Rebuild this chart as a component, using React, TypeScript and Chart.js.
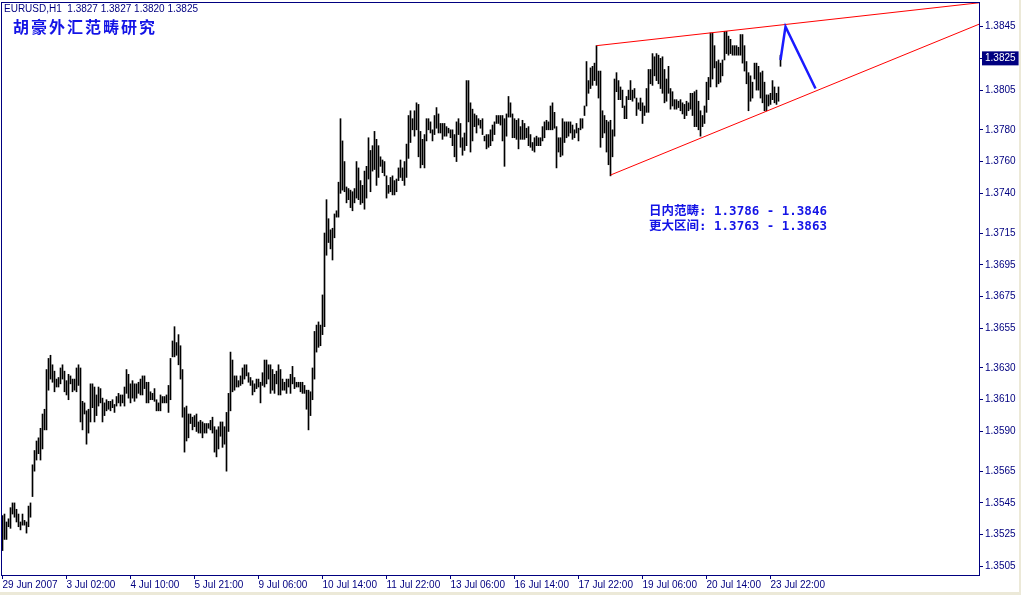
import React, { useEffect, useRef } from 'react';
import { Chart, registerables } from 'chart.js';

Chart.register(...registerables);

const NAVY = '#000080';
const BLUE = '#1414e6';

const HEADER = 'EURUSD,H1  1.3827 1.3827 1.3820 1.3825';
const TITLE = '胡豪外汇范畴研究';
const NOTES = ['日内范畴: 1.3786 - 1.3846', '更大区间: 1.3763 - 1.3863'];

const HIGH = [
  1.3537,1.3538,1.3533,1.3535,1.3542,1.3545,1.3545,1.3541,1.3538,1.3533,
  1.3538,1.3534,1.3533,1.3543,1.3545,1.3569,1.3578,1.3584,1.3586,1.3592,
  1.3601,1.3604,1.3629,1.3636,1.3638,1.3632,1.3628,1.3623,1.3624,1.3630,
  1.3632,1.3628,1.3622,1.3626,1.3625,1.3623,1.3623,1.3630,1.3632,1.3630,
  1.3609,1.3608,1.3603,1.3604,1.3620,1.3620,1.3618,1.3613,1.3618,1.3617,
  1.3611,1.3608,1.3610,1.3609,1.3609,1.3610,1.3607,1.3612,1.3614,1.3613,
  1.3613,1.3618,1.3629,1.3626,1.3620,1.3622,1.3620,1.3620,1.3621,1.3623,
  1.3625,1.3625,1.3621,1.3621,1.3615,1.3614,1.3617,1.3610,1.3608,1.3613,
  1.3612,1.3612,1.3613,1.3619,1.3636,1.3647,1.3656,1.3646,1.3651,1.3644,
  1.3629,1.3605,1.3606,1.3601,1.3601,1.3599,1.3600,1.3601,1.3596,1.3597,
  1.3596,1.3595,1.3595,1.3595,1.3597,1.3599,1.3593,1.3591,1.3593,1.3596,
  1.3596,1.3593,1.3602,1.3614,1.3640,1.3635,1.3625,1.3625,1.3622,1.3625,
  1.3630,1.3632,1.3632,1.3627,1.3624,1.3622,1.3620,1.3623,1.3623,1.3621,
  1.3627,1.3635,1.3635,1.3632,1.3632,1.3629,1.3626,1.3628,1.3632,1.3629,
  1.3623,1.3621,1.3623,1.3623,1.3626,1.3631,1.3624,1.3621,1.3621,1.3621,
  1.3621,1.3619,1.3616,1.3616,1.3615,1.3630,1.3653,1.3657,1.3659,1.3657,
  1.3676,1.3715,1.3736,1.3724,1.3717,1.3718,1.3727,1.3729,1.3747,1.3787,
  1.3773,1.3760,1.3744,1.3743,1.3742,1.3741,1.3743,1.3760,1.3756,1.3748,
  1.3745,1.3754,1.3757,1.3775,1.3767,1.3770,1.3779,1.3774,1.3770,1.3763,
  1.3761,1.3760,1.3751,1.3745,1.3750,1.3751,1.3748,1.3749,1.3756,1.3761,
  1.3756,1.3760,1.3771,1.3789,1.3792,1.3787,1.3792,1.3797,1.3796,1.3779,
  1.3774,1.3777,1.3787,1.3787,1.3785,1.3780,1.3789,1.3794,1.3790,1.3784,
  1.3784,1.3784,1.3782,1.3781,1.3780,1.3780,1.3777,1.3785,1.3787,1.3784,
  1.3775,1.3778,1.3811,1.3811,1.3797,1.3793,1.3790,1.3789,1.3787,1.3786,
  1.3787,1.3776,1.3777,1.3777,1.3780,1.3783,1.3785,1.3789,1.3789,1.3789,
  1.3789,1.3787,1.3790,1.3801,1.3797,1.3790,1.3787,1.3786,1.3787,1.3782,
  1.3786,1.3784,1.3781,1.3782,1.3777,1.3772,1.3775,1.3776,1.3775,1.3775,
  1.3782,1.3785,1.3786,1.3785,1.3795,1.3797,1.3791,1.3782,1.3775,1.3775,
  1.3787,1.3785,1.3785,1.3785,1.3785,1.3783,1.3780,1.3784,1.3781,1.3787,
  1.3787,1.3795,1.3823,1.3811,1.3819,1.3820,1.3822,1.3833,1.3817,1.3817,
  1.3792,1.3789,1.3786,1.3785,1.3786,1.3780,1.3812,1.3816,1.3811,1.3807,
  1.3805,1.3795,1.3801,1.3805,1.3811,1.3805,1.3806,1.3800,1.3797,1.3800,
  1.3797,1.3795,1.3806,1.3818,1.3818,1.3828,1.3826,1.3828,1.3827,1.3825,
  1.3826,1.3818,1.3812,1.3820,1.3806,1.3804,1.3799,1.3799,1.3798,1.3799,
  1.3797,1.3796,1.3798,1.3797,1.3803,1.3803,1.3804,1.3805,1.3798,1.3792,
  1.3789,1.3795,1.3810,1.3813,1.3841,1.3841,1.3833,1.3823,1.3824,1.3822,
  1.3824,1.3842,1.3842,1.3839,1.3837,1.3833,1.3833,1.3833,1.3832,1.3840,
  1.3840,1.3833,1.3823,1.3816,1.3814,1.3810,1.3822,1.3822,1.3820,1.3816,
  1.3817,1.3810,1.3802,1.3802,1.3803,1.3811,1.3807,1.3803,1.3807,1.3827,
];

const LOW = [
  1.3515,1.3522,1.3522,1.3530,1.3529,1.3538,1.3536,1.3533,1.3530,1.3528,
  1.3531,1.3531,1.3526,1.3530,1.3536,1.3549,1.3565,1.3572,1.3576,1.3572,
  1.3579,1.3591,1.3591,1.3616,1.3623,1.3621,1.3615,1.3618,1.3618,1.3620,
  1.3623,1.3615,1.3613,1.3610,1.3620,1.3615,1.3616,1.3615,1.3619,1.3596,
  1.3591,1.3601,1.3582,1.3589,1.3596,1.3605,1.3596,1.3600,1.3606,1.3608,
  1.3596,1.3600,1.3603,1.3604,1.3603,1.3605,1.3602,1.3606,1.3608,1.3606,
  1.3608,1.3606,1.3614,1.3611,1.3608,1.3611,1.3609,1.3611,1.3614,1.3613,
  1.3613,1.3617,1.3608,1.3608,1.3610,1.3610,1.3609,1.3603,1.3603,1.3603,
  1.3608,1.3608,1.3608,1.3602,1.3610,1.3637,1.3637,1.3638,1.3632,1.3623,
  1.3599,1.3577,1.3584,1.3586,1.3595,1.3591,1.3593,1.3590,1.3589,1.3589,
  1.3586,1.3589,1.3589,1.3592,1.3591,1.3589,1.3577,1.3574,1.3579,1.3587,
  1.3580,1.3582,1.3565,1.3590,1.3603,1.3615,1.3616,1.3618,1.3618,1.3619,
  1.3620,1.3623,1.3625,1.3621,1.3619,1.3613,1.3615,1.3617,1.3618,1.3608,
  1.3619,1.3618,1.3620,1.3623,1.3614,1.3616,1.3614,1.3620,1.3613,1.3613,
  1.3616,1.3616,1.3614,1.3618,1.3614,1.3620,1.3617,1.3618,1.3618,1.3615,
  1.3614,1.3614,1.3604,1.3591,1.3600,1.3610,1.3623,1.3640,1.3643,1.3644,
  1.3651,1.3656,1.3701,1.3709,1.3705,1.3698,1.3712,1.3725,1.3725,1.3740,
  1.3742,1.3741,1.3734,1.3736,1.3731,1.3729,1.3734,1.3737,1.3736,1.3733,
  1.3734,1.3730,1.3737,1.3749,1.3741,1.3754,1.3755,1.3745,1.3750,1.3757,
  1.3753,1.3751,1.3737,1.3740,1.3741,1.3739,1.3739,1.3741,1.3748,1.3750,
  1.3748,1.3745,1.3750,1.3762,1.3772,1.3780,1.3776,1.3780,1.3763,1.3756,
  1.3758,1.3756,1.3773,1.3780,1.3778,1.3773,1.3777,1.3781,1.3778,1.3778,
  1.3774,1.3776,1.3776,1.3778,1.3775,1.3770,1.3763,1.3760,1.3777,1.3769,
  1.3764,1.3767,1.3770,1.3785,1.3766,1.3773,1.3782,1.3778,1.3783,1.3781,
  1.3777,1.3773,1.3768,1.3769,1.3770,1.3773,1.3777,1.3784,1.3784,1.3783,
  1.3773,1.3757,1.3776,1.3788,1.3788,1.3775,1.3775,1.3774,1.3768,1.3774,
  1.3774,1.3774,1.3775,1.3770,1.3769,1.3767,1.3766,1.3770,1.3770,1.3770,
  1.3773,1.3775,1.3780,1.3780,1.3780,1.3780,1.3781,1.3756,1.3766,1.3763,
  1.3764,1.3772,1.3775,1.3776,1.3778,1.3774,1.3775,1.3778,1.3773,1.3780,
  1.3781,1.3789,1.3795,1.3803,1.3806,1.3808,1.3811,1.3808,1.3800,1.3769,
  1.3775,1.3778,1.3766,1.3758,1.3751,1.3763,1.3776,1.3804,1.3799,1.3799,
  1.3794,1.3787,1.3787,1.3799,1.3799,1.3798,1.3800,1.3789,1.3793,1.3792,
  1.3784,1.3789,1.3791,1.3791,1.3809,1.3808,1.3814,1.3811,1.3809,1.3806,
  1.3803,1.3797,1.3798,1.3803,1.3793,1.3795,1.3793,1.3793,1.3794,1.3792,
  1.3790,1.3787,1.3789,1.3792,1.3793,1.3789,1.3782,1.3782,1.3780,1.3776,
  1.3782,1.3784,1.3791,1.3799,1.3807,1.3812,1.3819,1.3807,1.3809,1.3810,
  1.3814,1.3824,1.3828,1.3827,1.3828,1.3827,1.3827,1.3827,1.3827,1.3827,
  1.3822,1.3817,1.3809,1.3792,1.3798,1.3800,1.3812,1.3805,1.3805,1.3800,
  1.3797,1.3792,1.3792,1.3795,1.3796,1.3799,1.3797,1.3796,1.3798,1.3820,
];

const X_TICK_INDEX = [0, 32, 64, 96, 128, 160, 192, 224, 256, 288, 320, 352, 384];
const X_TICK_LABELS = [
  '29 Jun 2007', '3 Jul 02:00', '4 Jul 10:00', '5 Jul 21:00', '9 Jul 06:00',
  '10 Jul 14:00', '11 Jul 22:00', '13 Jul 06:00', '16 Jul 14:00', '17 Jul 22:00',
  '19 Jul 06:00', '20 Jul 14:00', '23 Jul 22:00',
];
const Y_TICKS = [
  1.3505, 1.3525, 1.3545, 1.3565, 1.359, 1.361, 1.363, 1.3655, 1.3675,
  1.3695, 1.3715, 1.374, 1.376, 1.378, 1.3805, 1.3825, 1.3845,
];
const CURRENT_PRICE = 1.3825;

const UPPER_X = [297, 488.25];
const UPPER_Y = [1.3833, 1.386];
const LOWER_X = [304, 488.25];
const LOWER_Y = [1.37515, 1.38465];
const FORECAST_X = [389, 391.5, 406.5];
const FORECAST_Y = [1.3824, 1.3845, 1.3806];

const X_MIN = -0.75;
const X_MAX = 488.25;
const Y_MIN = 1.34996;
const Y_MAX = 1.38605;

const AXIS_FONT = "'Liberation Sans', Arial, sans-serif";

const overlay = {
  id: 'overlay',
  beforeDraw(chart: any) {
    const { ctx, width, height } = chart;
    ctx.save();
    ctx.fillStyle = '#ffffff';
    ctx.fillRect(0, 0, width, height);
    ctx.fillStyle = '#ECE9D8';
    ctx.fillRect(width - 2, 0, 2, height);
    ctx.fillRect(0, height - 3, width, 3);
    ctx.restore();
  },
  afterDraw(chart: any) {
    const { ctx, chartArea: a } = chart;
    ctx.save();
    ctx.strokeStyle = NAVY;
    ctx.lineWidth = 1;
    ctx.strokeRect(Math.round(a.left) + 0.5, Math.round(a.top) + 0.5,
      Math.round(a.right) - Math.round(a.left), Math.round(a.bottom) - Math.round(a.top));

    ctx.fillStyle = NAVY;
    ctx.textBaseline = 'top';
    ctx.textAlign = 'left';
    ctx.font = `10px ${AXIS_FONT}`;
    ctx.fillText(HEADER, 4, 4);

    ctx.fillStyle = BLUE;
    ctx.textBaseline = 'middle';
    ctx.font = "bold 16px 'Noto Sans CJK SC', sans-serif";
    (ctx as any).letterSpacing = '2px';
    ctx.fillText(TITLE, 13, 27);
    (ctx as any).letterSpacing = '0px';

    ctx.font = "bold 12.5px 'DejaVu Sans Mono', 'Noto Sans CJK SC', monospace";
    ctx.fillText(NOTES[0], 649, 212);
    ctx.fillText(NOTES[1], 649, 227);
    ctx.restore();
  },
};

export default function App() {
  const ref = useRef<HTMLCanvasElement>(null);

  useEffect(() => {
    document.body.style.margin = '0';
    const canvas = ref.current;
    if (!canvas) return;

    const bars = HIGH.map((h, i) => ({ x: i, y: [LOW[i], h] }));
    const pts = (xs: number[], ys: number[]) => xs.map((x, i) => ({ x, y: ys[i] }));

    const chart = new Chart(canvas, {
      type: 'bar',
      data: {
        datasets: [
          {
            type: 'bar',
            data: bars as any,
            backgroundColor: '#000000',
            borderWidth: 0,
            barThickness: 1,
            grouped: false,
            order: 3,
          } as any,
          {
            type: 'line',
            data: pts(UPPER_X, UPPER_Y) as any,
            borderColor: '#ff0000',
            borderWidth: 1,
            pointRadius: 0,
            tension: 0,
            fill: false,
            order: 1,
          } as any,
          {
            type: 'line',
            data: pts(LOWER_X, LOWER_Y) as any,
            borderColor: '#ff0000',
            borderWidth: 1,
            pointRadius: 0,
            tension: 0,
            fill: false,
            order: 1,
          } as any,
          {
            type: 'line',
            data: pts(FORECAST_X, FORECAST_Y) as any,
            borderColor: '#1a1aff',
            borderWidth: 2.5,
            pointRadius: 0,
            tension: 0,
            fill: false,
            order: 0,
          } as any,
        ],
      },
      options: {
        animation: false,
        responsive: false,
        devicePixelRatio: 1,
        layout: { padding: { left: 1, top: 2, right: 0, bottom: 0 } },
        plugins: { legend: { display: false }, tooltip: { enabled: false } },
        scales: {
          x: {
            type: 'linear',
            position: 'bottom',
            min: X_MIN,
            max: X_MAX,
            offset: false,
            afterFit: (s: any) => {
              s.height = 20;
              s.paddingLeft = 0;
              s.paddingRight = 0;
              s.paddingTop = 0;
              s.paddingBottom = 0;
            },
            afterBuildTicks: (s: any) => { s.ticks = X_TICK_INDEX.map((v) => ({ value: v })); },
            grid: { display: true, offset: false, drawOnChartArea: false, drawTicks: true, tickLength: 4, color: NAVY, lineWidth: 1 },
            border: { display: false },
            ticks: {
              autoSkip: false,
              maxRotation: 0,
              minRotation: 0,
              align: 'start',
              padding: 0,
              color: NAVY,
              font: { family: AXIS_FONT, size: 10 },
              callback: (v: any) => {
                const k = X_TICK_INDEX.indexOf(Number(v));
                return k >= 0 ? X_TICK_LABELS[k] : '';
              },
            },
          },
          y: {
            type: 'linear',
            position: 'right',
            min: Y_MIN,
            max: Y_MAX,
            afterFit: (s: any) => {
              s.width = 42;
              s.paddingTop = 0;
              s.paddingBottom = 0;
              s.paddingLeft = 0;
              s.paddingRight = 0;
            },
            afterBuildTicks: (s: any) => { s.ticks = Y_TICKS.map((v) => ({ value: v })); },
            grid: { display: true, drawOnChartArea: false, drawTicks: true, tickLength: 4, color: NAVY, lineWidth: 1 },
            border: { display: false },
            ticks: {
              crossAlign: 'near',
              padding: 2,
              font: { family: AXIS_FONT, size: 10 },
              color: (c: any) => (c.tick && c.tick.value === CURRENT_PRICE ? '#ffffff' : NAVY),
              showLabelBackdrop: (c: any) => !!(c.tick && c.tick.value === CURRENT_PRICE),
              backdropColor: NAVY,
              backdropPadding: { left: 3, right: 3, top: 1, bottom: 1 },
              callback: (v: any) => Number(v).toFixed(4),
            },
          },
        },
      } as any,
      plugins: [overlay],
    });

    return () => chart.destroy();
  }, []);

  return (
    <div style={{ width: 1021, height: 595 }}>
      <canvas ref={ref} width={1021} height={595} style={{ display: 'block', width: 1021, height: 595 }} />
    </div>
  );
}
